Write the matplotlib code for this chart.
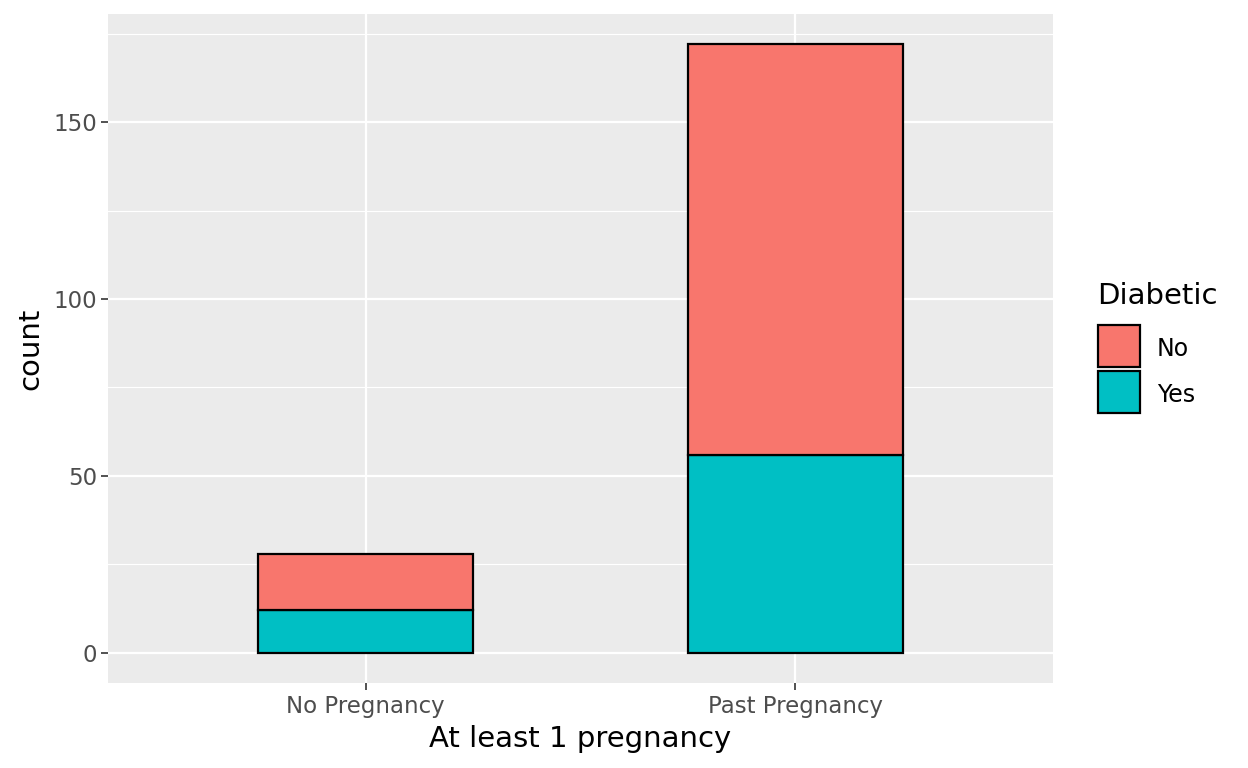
import matplotlib
matplotlib.use("Agg")
import matplotlib.pyplot as plt
from matplotlib.patches import Rectangle
import numpy as np

categories = ["No Pregnancy", "Past Pregnancy"]
yes_counts = [12, 56]
no_counts = [16, 116]
legend_labels = ["No", "Yes"]
colors = {"No": "#F8766D", "Yes": "#00BFC4"}

fig = plt.figure(figsize=(12.48, 7.68), dpi=100)
ax = fig.add_axes([108/1248, 1-683/768, (1053-108)/1248, (683-14)/768])
ax.set_facecolor("#EBEBEB")

x = np.arange(1, len(categories)+1)
ax.bar(x, yes_counts, width=0.5, color=colors["Yes"], edgecolor="black", linewidth=1.6, zorder=3)
ax.bar(x, no_counts, width=0.5, bottom=yes_counts, color=colors["No"], edgecolor="black", linewidth=1.6, zorder=3)

totals = np.array(yes_counts) + np.array(no_counts)
ymax = totals.max()
ax.set_ylim(-0.05*ymax, ymax*1.05)
ax.set_xlim(0.4, 2.6)

ax.set_yticks([0, 50, 100, 150])
ax.set_yticks([25, 75, 125, 175], minor=True)
ax.set_xticks(x)
ax.set_xticklabels(categories)
ax.grid(which="major", color="white", linewidth=1.6, zorder=0)
ax.grid(which="minor", axis="y", color="white", linewidth=0.8, zorder=0)
ax.tick_params(which="minor", length=0)
ax.tick_params(which="major", length=5, width=1.2, color="#333333", labelcolor="#4D4D4D", labelsize=16.5, pad=3)
ax.tick_params(axis="x", pad=4)
for s in ax.spines.values():
    s.set_visible(False)
ax.set_axisbelow(True)

ax.set_xlabel("At least 1 pregnancy", fontsize=21, labelpad=5)
ax.set_ylabel("count", fontsize=21, labelpad=6)

# legend
W, H = 1248, 768
fig.text(1097/W, 1-296/H, "Diabetic", fontsize=21, va="center", ha="left")
for i, lab in enumerate(legend_labels):
    top = 325 + i*46
    fig.patches.append(Rectangle((1098/W, 1-(top+42)/H), 42/W, 42/H, transform=fig.transFigure,
                                 facecolor=colors[lab], edgecolor="black", linewidth=1.6))
    fig.text(1157/W, 1-(top+24)/H, lab, fontsize=17, va="center", ha="left")

fig.savefig("out.png", dpi=100)
